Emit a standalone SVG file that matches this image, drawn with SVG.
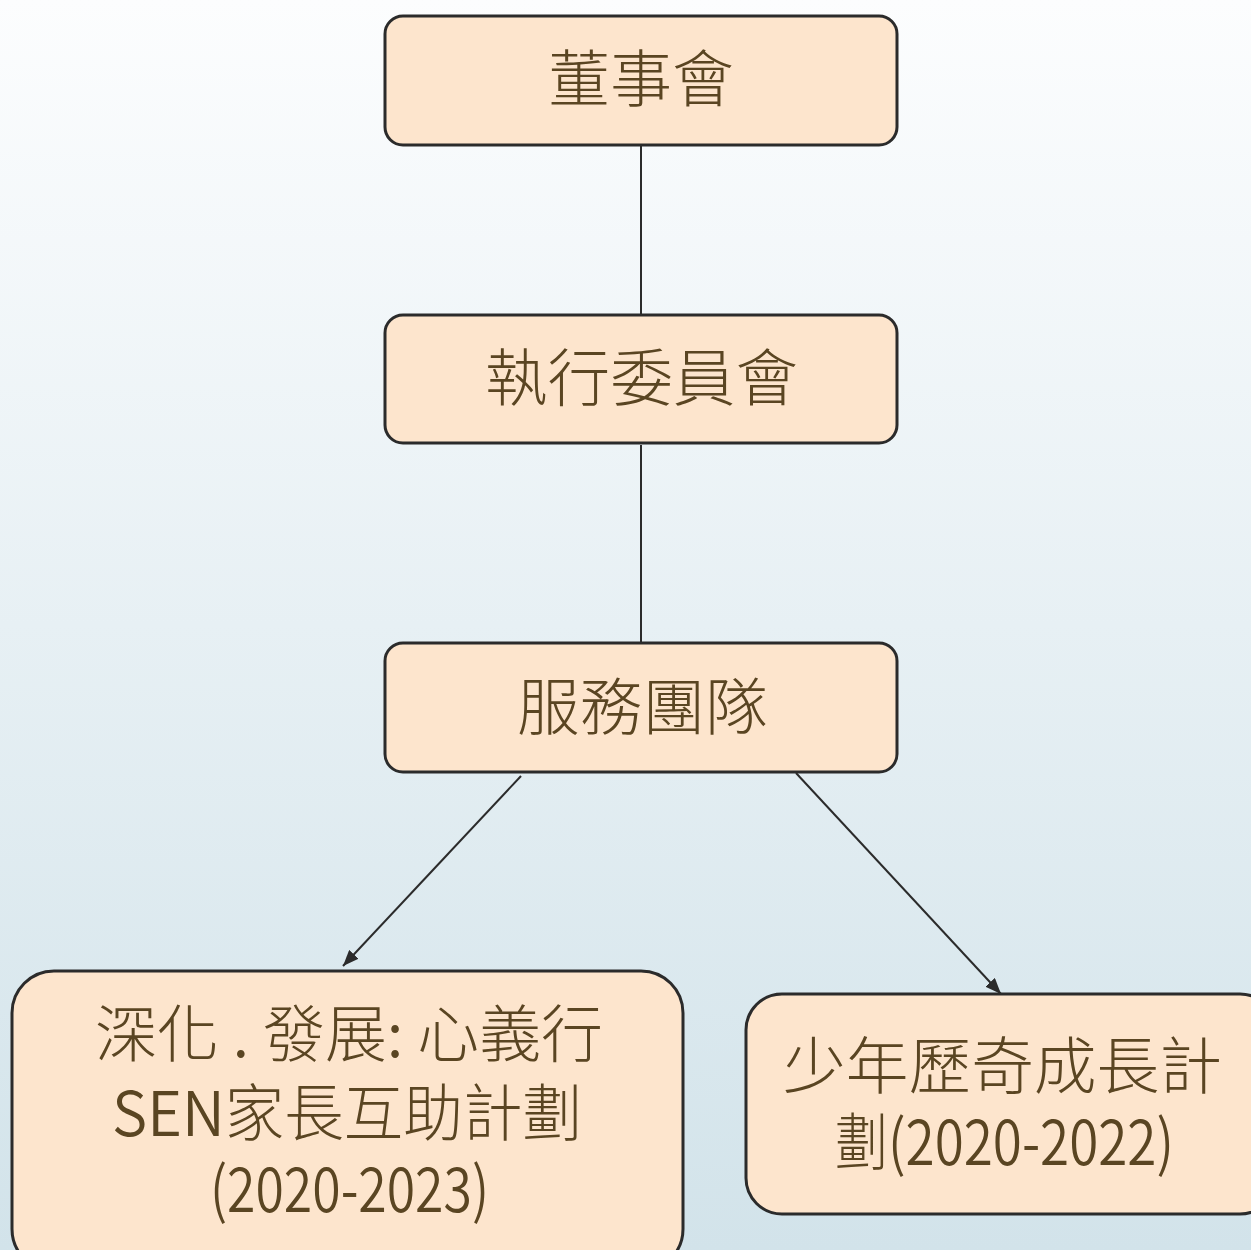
<svg xmlns="http://www.w3.org/2000/svg" width="1251" height="1250" viewBox="0 0 1251 1250">
<defs>
<linearGradient id="bg" x1="0" y1="0" x2="0" y2="1">
<stop offset="0" stop-color="#fcfdfe"/>
<stop offset="1" stop-color="#d2e3ea"/>
</linearGradient>
<marker id="arr" viewBox="0 0 16 13" refX="16" refY="6.5" markerWidth="16" markerHeight="13" orient="auto" markerUnits="userSpaceOnUse">
<path d="M0,0 L16,6.5 L0,13 z" fill="#2b2b2b"/>
</marker>
<style>
.box{fill:#fde5cd;stroke:#2b2b2b;stroke-width:3}
.t{font-family:"Noto Sans CJK TC","Noto Sans CJK SC",sans-serif;font-size:62px;font-weight:300;fill:#5a4522;text-anchor:start}
.l{font-family:"Liberation Sans Narrow","Noto Sans CJK TC",sans-serif;font-weight:350}
.c{stroke:#2b2b2b;stroke-width:2;fill:none}
</style>
</defs>
<rect width="1251" height="1250" fill="url(#bg)"/>
<g id="connectors">
<line class="c" x1="641" y1="146" x2="641" y2="314"/>
<line class="c" x1="641" y1="445" x2="641" y2="642"/>
<line class="c" x1="521" y1="776" x2="343" y2="966" marker-end="url(#arr)"/>
<line class="c" x1="796" y1="773" x2="1001" y2="994" marker-end="url(#arr)"/>
</g>
<g id="node1">
<rect class="box" x="385" y="16" width="512" height="129" rx="18"/>
<text class="t" x="548" y="102" textLength="186" lengthAdjust="spacingAndGlyphs">董事會</text>
</g>
<g id="node2">
<rect class="box" x="385" y="315" width="512" height="128" rx="18"/>
<text class="t" x="485" y="401" textLength="313" lengthAdjust="spacingAndGlyphs">執行委員會</text>
</g>
<g id="node3">
<rect class="box" x="385" y="643" width="512" height="129" rx="18"/>
<text class="t" x="517" y="730" textLength="251" lengthAdjust="spacingAndGlyphs">服務團隊</text>
</g>
<g id="node4">
<rect class="box" x="12" y="971" width="671" height="300" rx="42"/>
<text class="t" x="95" y="1057" textLength="508" lengthAdjust="spacingAndGlyphs">深化<tspan class="l"> . </tspan>發展<tspan class="l">: </tspan>心義行</text>
<text class="t" x="112" y="1136" textLength="470" lengthAdjust="spacingAndGlyphs"><tspan class="l">SEN</tspan>家長互助計劃</text>
<text class="t l" x="210" y="1212" textLength="279" lengthAdjust="spacingAndGlyphs">(2020-2023)</text>
</g>
<g id="node5">
<rect class="box" x="746" y="994" width="530" height="220" rx="36"/>
<text class="t" x="783" y="1089" textLength="439" lengthAdjust="spacingAndGlyphs">少年歷奇成長計</text>
<text class="t" x="835" y="1165" textLength="339" lengthAdjust="spacingAndGlyphs">劃<tspan class="l">(2020-2022)</tspan></text>
</g>
</svg>
